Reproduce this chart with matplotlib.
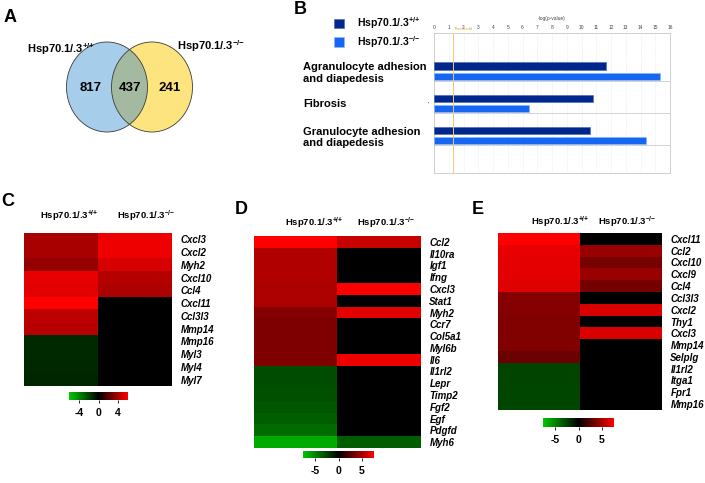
import matplotlib
matplotlib.use('Agg')
import matplotlib.pyplot as plt
import numpy as np
from matplotlib.patches import Ellipse
from matplotlib.colors import LinearSegmentedColormap
from matplotlib.transforms import blended_transform_factory

plt.rcParams['font.family'] = ['Liberation Sans', 'DejaVu Sans']
plt.rcParams['font.weight'] = 'bold'
plt.rcParams['mathtext.fontset'] = 'custom'
plt.rcParams['mathtext.rm'] = 'Liberation Sans:bold'
plt.rcParams['mathtext.bf'] = 'Liberation Sans:bold'
plt.rcParams['mathtext.default'] = 'rm'
plt.rcParams['axes.unicode_minus'] = False

W, H = 705, 483

##### data #####
wt_lab = r'Hsp70.1/.3$^{{+}/{+}}$'
ko_lab = r'Hsp70.1/.3$^{{-}/{-}}$'

venn_counts = [817, 437, 241]   # wt only, shared, ko only

pathways = ['Agranulocyte adhesion\nand diapedesis', 'Fibrosis',
            'Granulocyte adhesion\nand diapedesis']
logp_wt = [11.65, 10.8, 10.6]
logp_ko = [15.3, 6.45, 14.4]
threshold = 1.3

C_genes = ['Cxcl3', 'Cxcl2', 'Myh2', 'Cxcl10', 'Ccl4', 'Cxcl11', 'Ccl3l3',
           'Mmp14', 'Mmp16', 'Myl3', 'Myl4', 'Myl7']
C_wt = [4.1, 4.1, 3.6, 5.6, 5.5, 6.2, 4.6, 4.5, -1.3, -1.3, -1.25, -1.2]
C_ko = [5.8, 5.8, 5.2, 4.4, 4.2, 0, 0, 0, 0, 0, 0, 0]

D_genes = ['Ccl2', 'Il10ra', 'Igf1', 'Ifng', 'Cxcl3', 'Stat1', 'Myh2', 'Ccr7',
           'Col5a1', 'Myl6b', 'Il6', 'Il1rl2', 'Lepr', 'Timp2', 'Fgf2', 'Egf',
           'Pdgfd', 'Myh6']
D_wt = [7.7, 5.3, 5.3, 5.3, 5.2, 5.2, 4.0, 3.8, 3.8, 3.8, 3.8,
        -2.9, -3.0, -3.1, -3.3, -3.6, -4.1, -6.6]
D_ko = [6.0, 0, 0, 0, 7.7, 0, 6.8, 0, 0, 0, 7.2, 0, 0, 0, 0, 0, 0, -3.6]

E_genes = ['Cxcl11', 'Ccl2', 'Cxcl10', 'Cxcl9', 'Ccl4', 'Ccl3l3', 'Cxcl2',
           'Thy1', 'Cxcl3', 'Mmp14', 'Selplg', 'Il1rl2', 'Itga1', 'Fpr1', 'Mmp16']
E_wt = [7.7, 7.0, 6.9, 6.8, 6.7, 4.0, 4.0, 3.9, 3.9, 3.9, 3.2,
        -2.6, -2.6, -2.7, -2.7]
E_ko = [0, 4.6, 3.6, 4.6, 3.5, 0, 6.5, 0, 6.6, 0, 0, 0, 0, 0, 0]

cmap = LinearSegmentedColormap.from_list('grk', ['#00c800', '#000000', '#ff0000'])

fig = plt.figure(figsize=(W / 100, H / 100), dpi=100)


def px_axes(x0, y0, x1, y1):
    return fig.add_axes([x0 / W, 1 - y1 / H, (x1 - x0) / W, (y1 - y0) / H])


# background axes in pixel coords for annotations
bg = px_axes(0, 0, W, H)
bg.set_xlim(0, W)
bg.set_ylim(H, 0)
bg.axis('off')

for letter, x, y in [('A', 10, 18), ('B', 300, 10), ('C', 8, 201),
                     ('D', 241, 209), ('E', 478, 209)]:
    bg.text(x, y, letter, fontsize=13, fontweight='bold', ha='center', va='center')

##### A: venn #####
left = Ellipse((107, 87), 81, 90, fc='#a6cdea', ec='none')
right = Ellipse((152, 87), 81, 90, fc='#fee47e', ec='none')
bg.add_patch(left)
bg.add_patch(right)
lens = Ellipse((152, 87), 81, 90, fc='#a3baa0', ec='none')
bg.add_patch(lens)
lens.set_clip_path(left)
for cx in (107, 152):
    bg.add_patch(Ellipse((cx, 87), 81, 90, fc='none', ec='#3a3a3a', lw=0.6))
for cnt, x in zip(venn_counts, [91, 130, 170]):
    bg.text(x, 88, str(cnt), fontsize=9.5, ha='center', va='center')
bg.text(27, 53, wt_lab, fontsize=8, ha='left', va='baseline')
bg.text(177, 50, ko_lab, fontsize=8, ha='left', va='baseline')

##### B: bar chart #####
axb = px_axes(434, 33, 670, 173)
yy = np.arange(len(pathways))
b1 = axb.barh(yy - 0.17, logp_wt, height=0.22, color='#00288c',
              edgecolor='#4666b0', linewidth=0.4, zorder=3)
b2 = axb.barh(yy + 0.17, logp_ko, height=0.22, color='#1566f2',
              edgecolor='#8fb6f5', linewidth=0.4, zorder=3)
axb.set_xlim(0, 16)
axb.set_ylim(3.17, -1.2)
axb.set_xticks(range(17))
axb.xaxis.tick_top()
axb.xaxis.set_label_position('top')
axb.set_xlabel('-log(p-value)', fontsize=3.5, fontweight='normal', labelpad=4, color='#444444')
axb.tick_params(axis='x', length=0, labelsize=3.5, pad=2, labelcolor='#444444')
for t in axb.get_xticklabels():
    t.set_fontweight('normal')
axb.grid(axis='x', color='#d8d8d8', lw=0.4, ls=':')
for i in yy:
    axb.axhline(i + 0.31, color='#cccccc', lw=0.6, zorder=2)
axb.axvline(threshold, color='#f5c878', lw=0.7, zorder=4)
axb.text(threshold + 0.05, 1.032, 'Threshold', fontsize=3.2, fontweight='normal',
         color='#f0a830', transform=blended_transform_factory(axb.transData, axb.transAxes),
         va='center')
axb.set_yticks(yy, pathways)
axb.tick_params(axis='y', length=0, pad=94, labelsize=8)
for t in axb.get_yticklabels():
    t.set_horizontalalignment('left')
for s in axb.spines.values():
    s.set_color('#c8c8c8')
    s.set_linewidth(0.6)
bg.text(428, 104, "'", fontsize=4, fontweight='normal', ha='center', va='center')
axb.legend([b1, b2], [wt_lab, ko_lab], loc='upper left', bbox_to_anchor=(334 / W, 1 - 15 / H),
           bbox_transform=fig.transFigure, frameon=False, fontsize=7.5,
           handlelength=1.0, handleheight=1.0, handletextpad=1.2, labelspacing=0.3,
           borderpad=0, borderaxespad=0)


##### C-E: heatmaps #####
def heatmap(box, genes, wt, ko, vmax, cb_box, cb_ticks, head_x, head_y):
    ax = px_axes(*box)
    data = np.column_stack([wt, ko])
    im = ax.imshow(data, cmap=cmap, vmin=-vmax, vmax=vmax, aspect='auto',
                   interpolation='nearest')
    ax.set_yticks(range(len(genes)), genes)
    ax.yaxis.tick_right()
    ax.tick_params(axis='y', length=0, pad=6, labelsize=7)
    for t in ax.get_yticklabels():
        t.set_fontstyle('italic')
    ax.set_xticks([])
    for s in ax.spines.values():
        s.set_visible(False)
    for lab, x in zip([wt_lab, ko_lab], head_x):
        bg.text(x, head_y, lab, fontsize=6.8, ha='center', va='center')
    cax = px_axes(*cb_box)
    cb = fig.colorbar(im, cax=cax, orientation='horizontal', ticks=cb_ticks)
    cb.outline.set_visible(False)
    cax.tick_params(length=2, width=0.6, labelsize=7.5, pad=4)
    for t in cax.get_xticklabels():
        t.set_fontweight('bold')
    return ax


heatmap((24, 233, 172, 386), C_genes, C_wt, C_ko, 6.2, (69, 392, 128, 400),
        [-4, 0, 4], [69, 146], 216)
heatmap((254, 236, 421, 448), D_genes, D_wt, D_ko, 7.7, (303, 451, 374, 458),
        [-5, 0, 5], [314, 386], 223)
heatmap((498, 233, 662, 410), E_genes, E_wt, E_ko, 7.7, (543, 418, 614, 427),
        [-5, 0, 5], [560, 627], 222)

fig.savefig('out.png', dpi=100)
